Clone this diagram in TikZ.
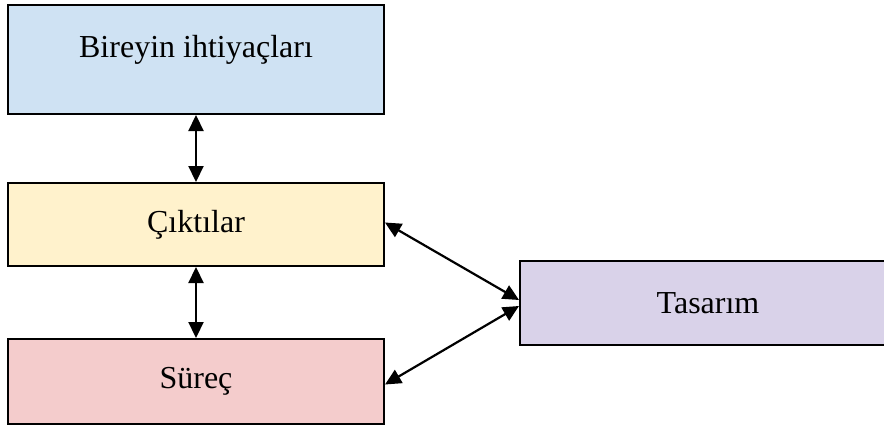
\documentclass[tikz,border=0pt]{standalone}
\usepackage{fontspec}
\setmainfont{Liberation Serif}
\usetikzlibrary{arrows.meta, positioning}
\definecolor{ihtblue}{RGB}{207, 226, 243}
\definecolor{ciktiyellow}{RGB}{255, 242, 204}
\definecolor{surecpink}{RGB}{244, 204, 204}
\definecolor{tasarimlilac}{RGB}{217, 210, 233}
\tikzset{
    boxnode/.style = {draw, rectangle, line width=1pt, minimum width=188pt, inner sep=0pt,
      font=\fontsize{16}{19}\selectfont},
    connect/.style = {black, line width=1.1pt,
      {Triangle[length=8pt,width=7.5pt]}-{Triangle[length=8pt,width=7.5pt]}}
}

\begin{document}
\begin{tikzpicture}[x=0.5pt, y=-0.5pt]
    \useasboundingbox (0,0) rectangle (884,428);
    \node [name = Ihtiyac, boxnode, fill=ihtblue, minimum height=54.5pt, text depth=13pt] at (196,59.5) {Bireyin ihtiyaçları};
    \node [name = Cikti, boxnode, fill=ciktiyellow, minimum height=41.5pt] at (196,224.5) {Çıktılar};
    \node [name = Surec, boxnode, fill=surecpink, minimum height=42.5pt] at (196,381.5) {Süreç};
    % kutu sagda sayfanin disina tasiyor
    \node [name = Tasarim, boxnode, fill=tasarimlilac, minimum height=42pt] at (708,303) {Tasarım};

    \draw [connect] (Ihtiyac) -- (Cikti);
    \draw [connect] (Cikti) -- (Surec);
    \draw [connect] ([yshift=1pt]Cikti.east) -- ([yshift=1.5pt]Tasarim.west);
    \draw [connect] ([yshift=-1.5pt]Surec.east) -- ([yshift=-1.5pt]Tasarim.west);
\end{tikzpicture}
\end{document}
